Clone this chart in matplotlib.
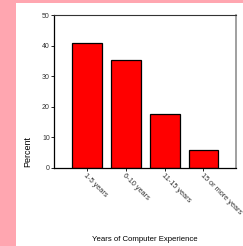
import matplotlib.pyplot as plt
from matplotlib.patches import Rectangle

categories = ['1-5 years', '6-10 years', '11-15 years', '15 or more years']
percent = [41.0, 35.2, 17.7, 5.8]
y_ticks = [0, 10, 20, 30, 40, 50]

plt.rcParams['font.family'] = ['Liberation Sans', 'DejaVu Sans']

fig = plt.figure(figsize=(2.43, 2.46), dpi=100)
fig.patch.set_facecolor('#ffa6b0')
fig.patches.append(Rectangle((16 / 243, 0), 1, 243 / 246, transform=fig.transFigure,
                             facecolor='white', edgecolor='none', zorder=-10))

ax = fig.add_axes([54 / 243, 78 / 246, 182 / 243, 153 / 246])
ax.set_facecolor('white')
x = range(len(categories))
ax.bar(x, percent, width=0.77, color='#ff0000', edgecolor='black', linewidth=0.9)

ax.set_xlim(-0.86, 3.84)
ax.set_ylim(0, 50)
ax.set_yticks(y_ticks)
ax.set_yticklabels([str(v) for v in y_ticks], fontsize=5, color='#333333')
ax.set_xticks(list(x))
ax.set_xticklabels(categories, fontsize=5.3, rotation=-45, ha='left', va='top',
                   rotation_mode='anchor', color='#333333')
ax.tick_params(axis='both', length=2, width=0.6, pad=1)

ax.spines['left'].set_linewidth(0.9)
ax.spines['bottom'].set_linewidth(0.9)
ax.spines['top'].set_linewidth(0.8)
ax.spines['top'].set_color('#333333')
ax.spines['right'].set_linewidth(1.2)
ax.spines['right'].set_color('#909090')

ax.set_ylabel('Percent', fontsize=6.5)
ax.yaxis.set_label_coords(-0.12, 0.105)
ax.set_xlabel('Years of Computer Experience', fontsize=5.6)
ax.xaxis.set_label_coords(0.497, -0.444)

fig.savefig('out.png', dpi=100, facecolor=fig.get_facecolor())
